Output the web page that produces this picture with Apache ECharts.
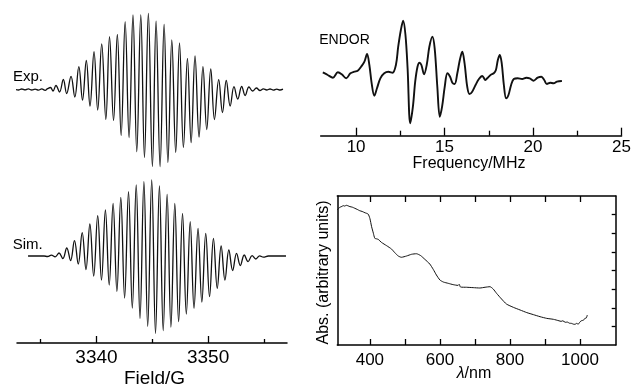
<!DOCTYPE html>
<html><head><meta charset="utf-8">
<script src="https://cdn.jsdelivr.net/npm/echarts@6/dist/echarts.min.js"></script>
<style>html,body{margin:0;padding:0;background:#fff}#c{width:634px;height:388px}</style>
</head><body><div id="c"></div>
<script>
// ---- data ----
// EPR experimental spectrum: [field (G), signal (arb.)]
const expSpectrum = [
[3332.70,0.3],[3333.00,-0.5],[3333.30,0.5],[3333.60,-0.4],[3333.90,0.6],[3334.20,-0.5],[3334.50,0.3],[3334.80,-0.7],[3335.10,0.6],[3335.40,-0.8],
[3335.62,0.8],[3335.88,2],[3336.11,-1.5],[3336.37,4],[3336.69,-2.5],[3337.03,10],[3337.33,-4],[3337.72,13.2],[3338.06,-7.5],[3338.42,22.8],
[3338.75,-10.5],[3339.09,29],[3339.42,-16.5],[3339.78,37.8],[3340.11,-20.5],[3340.47,45.7],[3340.84,-30],[3341.17,52.8],[3341.53,-31],[3341.87,55],
[3342.21,-46],[3342.57,67.8],[3342.92,-48],[3343.27,74.5],[3343.61,-62.2],[3343.97,74.6],[3344.30,-68],[3344.65,76.2],[3345.01,-77],[3345.34,68.3],
[3345.70,-77],[3346.06,65],[3346.40,-73],[3346.75,49.5],[3347.10,-63],[3347.44,46.6],[3347.79,-58],[3348.15,31.2],[3348.48,-53],[3348.83,33.6],
[3349.19,-47.5],[3349.54,22.8],[3349.88,-40],[3350.24,20.5],[3350.57,-30],[3350.95,9.8],[3351.29,-23],[3351.63,9],[3351.98,-16.5],[3352.32,2.8],
[3352.66,-9.5],[3353.01,3],[3353.32,-6],[3353.66,2.5],[3353.99,-1.5],[3354.33,1.5],[3354.65,-1],[3354.95,0.6],[3355.25,-0.5],[3355.55,0.5],
[3355.85,-0.6],[3356.15,0.4],[3356.45,-0.5],[3356.71,0.3]
];
// EPR simulated spectrum
const simSpectrum = [
[3333.87,0],[3335.30,0],[3335.62,-0.5],[3335.96,0.8],[3336.30,-0.8],[3336.65,3],[3336.99,-2.5],[3337.34,8],[3337.68,-4.5],[3338.03,15.3],
[3338.37,-8],[3338.72,23.3],[3339.06,-13.5],[3339.41,32],[3339.75,-20],[3340.11,40.3],[3340.45,-24],[3340.80,46],[3341.14,-29],[3341.49,52.7],
[3341.83,-35.5],[3342.18,58.7],[3342.52,-42],[3342.87,64.3],[3343.21,-52],[3343.56,71],[3343.90,-62.3],[3344.25,74.3],[3344.59,-70.3],[3344.95,76],
[3345.29,-77.3],[3345.64,70],[3345.98,-74.5],[3346.33,61.7],[3346.67,-71],[3347.02,52.5],[3347.36,-65.7],[3347.71,42.7],[3348.05,-58],[3348.40,34.3],
[3348.74,-52.3],[3349.10,27.7],[3349.44,-46],[3349.79,22.7],[3350.13,-40.7],[3350.48,17.7],[3350.82,-32.3],[3351.17,10],[3351.51,-24],[3351.86,6],
[3352.20,-14.5],[3352.55,2.7],[3352.89,-9.5],[3353.24,1],[3353.58,-5.7],[3353.94,0.4],[3354.28,-3],[3354.62,0.2],[3354.96,-1.2],[3355.40,0],[3356.98,0]
];
// ENDOR spectrum: [frequency (MHz), signal (arb.)]
const endorSpectrum = [
[8.12,2.7],[8.40,0],[8.69,-2.7],[8.97,2.7],[9.19,0.7],[9.44,-3.3],[9.68,1.7],[9.90,3.3],
[10.09,4.3],[10.28,8.3],[10.47,13.3],[10.62,21],[10.75,10],[10.88,-8.3],
[11.03,-20.7],[11.18,-13.3],[11.37,-3.3],[11.59,1.7],[11.82,3.3],
[12.06,2.3],[12.25,10],[12.38,28.3],[12.53,45],[12.66,54.3],[12.79,40],[12.91,6.7],
[13.06,-48.3],[13.21,-31.7],[13.34,-6.7],[13.47,8.3],[13.58,12.3],[13.69,10],[13.84,0.7],[13.99,10],
[14.14,28.3],[14.31,38.3],[14.44,26.7],[14.59,-11.7],[14.73,-41.7],[14.86,-31.7],
[15.01,-11.7],[15.16,1.7],[15.31,-1.7],[15.44,-7.7],[15.57,-9],[15.72,1.7],[15.87,15.7],
[16.00,23.3],[16.13,11.7],[16.28,-11.7],[16.41,-19],[16.56,-16.7],[16.75,-10],[16.94,-4],
[17.13,-1],[17.31,-5],[17.41,-3.3],[17.60,0],[17.78,1.7],[17.90,5],
[18.01,15],[18.12,20],[18.23,11.7],[18.35,-10],[18.48,-23.3],[18.61,-20],[18.76,-10],[18.91,-4],
[19.13,-3.3],[19.38,-4],[19.62,-2.7],[19.81,-3.3],
[20.03,-5.7],[20.26,-2.7],[20.47,-1.7],[20.63,-5],[20.78,-9],[20.97,-7.7],
[21.16,-8.3],[21.35,-6.7],[21.63,-6]
];
// Absorption spectrum: [wavelength (nm), absorbance (arb.)]
const absSpectrum = [
[306.7,7.25],[314,7.39],[320,7.44],[324,7.48],[328,7.46],[333,7.50],[338,7.47],[343,7.43],[350,7.40],[357,7.34],[364,7.28],[371,7.21],[378,7.17],[386,7.10],[395,7.03],
[400,6.80],[405,6.35],[410,6.00],[414,5.73],[419,5.70],[424,5.67],[433,5.51],[448,5.33],[462,5.15],[471,4.96],[481,4.78],[490,4.71],
[505,4.78],[519,4.87],[533,4.90],[545,4.80],[557,4.60],[571,4.35],[581,4.06],[590,3.76],[600,3.49],[610,3.38],[624,3.31],[638,3.24],
[652,3.20],[655,3.26],[659,3.11],[676,3.10],[695,3.08],[714,3.06],[729,3.10],[743,3.13],[752,3.01],[762,2.77],[776,2.47],[790,2.20],
[810,2.02],[829,1.88],[848,1.74],[867,1.63],[886,1.52],[905,1.43],[924,1.38],[940,1.30],[946,1.27],[951,1.30],[958,1.22],[964,1.23],
[970,1.17],[976,1.16],[981,1.12],[986,1.11],[990,1.16],[995,1.12],[1000,1.24],[1005,1.31],[1010,1.33],[1014,1.43],[1018,1.45],[1021,1.61]
];
// axis ticks and labels
const fieldTickLabels = [3340, 3350];
const fieldMinorTicks = [3335, 3345, 3355];
const freqTickLabels = [10, 15, 20, 25];
const freqMinorTicks = [12.5, 17.5, 22.5];
const wlTickLabels = [400, 600, 800, 1000];
const wlTicks = [400, 500, 600, 700, 800, 900, 1000];
const absTicks = [1, 2, 3, 4, 5, 6, 7];

const FONT = '"Liberation Sans", Arial, Helvetica, sans-serif';
const BLACK = '#000';
const chart = echarts.init(document.getElementById('c'), null, {renderer: 'canvas'});

function hiddenAxis(grid, min, max) {
  return {type: 'value', gridIndex: grid, min: min, max: max, show: false,
          axisLine: {onZero: false}, splitLine: {show: false}};
}
function tickAxis(grid, pos, min, max, ticks, len, labels, fs, margin, showLine) {
  return {
    type: 'value', gridIndex: grid, position: pos, min: min, max: max,
    axisLine: {show: showLine, onZero: false, lineStyle: {color: BLACK, width: 1.5}},
    axisTick: {show: true, inside: true, length: len, customValues: ticks, lineStyle: {color: BLACK, width: 1.3}},
    axisLabel: labels ? {show: true, customValues: labels, color: BLACK, fontSize: fs, fontFamily: FONT, margin: margin,
                         formatter: function (v) { return String(v); }}
                      : {show: false},
    splitLine: {show: false}
  };
}
function line(xi, yi, data, width, smooth) {
  return {type: 'line', xAxisIndex: xi, yAxisIndex: yi, data: data, showSymbol: false, symbol: 'none',
          smooth: smooth, lineStyle: {color: '#111', width: width}, silent: true, animation: false};
}

const FMIN = 3332.88, FMAX = 3357.07;

chart.setOption({
  animation: false,
  backgroundColor: '#fff',
  grid: [
    {left: 17, width: 270, top: 9.5, height: 160},
    {left: 17, width: 270, top: 176, height: 167},
    {left: 320.7, width: 302.6, top: 10, height: 125.7},
    {left: 337.3, width: 278.4, top: 196, height: 149}
  ],
  xAxis: [
    hiddenAxis(0, FMIN, FMAX),
    tickAxis(1, 'bottom', FMIN, FMAX, fieldTickLabels, 7, fieldTickLabels, 19, 5, true),
    tickAxis(1, 'bottom', FMIN, FMAX, fieldMinorTicks, 4, null, 0, 0, false),
    tickAxis(2, 'bottom', 8, 25, freqTickLabels, 8, freqTickLabels, 17, 3, true),
    tickAxis(2, 'bottom', 8, 25, freqMinorTicks, 5, null, 0, 0, false),
    tickAxis(3, 'bottom', 307, 1102, wlTicks, 6, wlTickLabels, 17, 7, true),
    tickAxis(3, 'top', 307, 1102, wlTicks, 6, null, 0, 0, true)
  ],
  yAxis: [
    hiddenAxis(0, -80, 80),
    hiddenAxis(1, -87, 80),
    hiddenAxis(2, -60.7, 65),
    {type: 'value', gridIndex: 3, position: 'left', min: 0, max: 8,
     axisLine: {show: true, onZero: false, lineStyle: {color: BLACK, width: 1.5}},
     axisTick: {show: false}, axisLabel: {show: false}, splitLine: {show: false}},
    tickAxis(3, 'right', 0, 8, absTicks, 4, null, 0, 0, true)
  ],
  series: [
    line(0, 0, expSpectrum, 1.3, 0.4),
    line(1, 1, simSpectrum, 1.3, 0.4),
    line(3, 2, endorSpectrum, 1.9, 0.35),
    line(5, 3, absSpectrum, 1.0, 0.2)
  ],
  graphic: [
    {type: 'text', x: 13, y: 77, style: {text: 'Exp.', font: '15px ' + FONT, fill: BLACK, align: 'left', verticalAlign: 'middle'}},
    {type: 'text', x: 12.7, y: 245, style: {text: 'Sim.', font: '15px ' + FONT, fill: BLACK, align: 'left', verticalAlign: 'middle'}},
    {type: 'text', x: 344.5, y: 40, style: {text: 'ENDOR', font: '14px ' + FONT, fill: BLACK, align: 'center', verticalAlign: 'middle'}},
    {type: 'text', x: 154.5, y: 379, style: {text: 'Field/G', font: '19px ' + FONT, fill: BLACK, align: 'center', verticalAlign: 'middle'}},
    {type: 'text', x: 469, y: 164, style: {text: 'Frequency/MHz', font: '16px ' + FONT, fill: BLACK, align: 'center', verticalAlign: 'middle'}},
    {type: 'text', x: 474, y: 374, style: {text: '{i|λ}/nm', font: '16px ' + FONT, fill: BLACK, align: 'center', verticalAlign: 'middle',
      rich: {i: {fontStyle: 'italic', fontSize: 16, fontFamily: FONT}}}},
    {type: 'text', x: 323.5, y: 272.5, rotation: Math.PI / 2,
     style: {text: 'Abs. (arbitrary units)', font: '16px ' + FONT, fill: BLACK, align: 'center', verticalAlign: 'middle'}}
  ]
});
</script></body></html>
